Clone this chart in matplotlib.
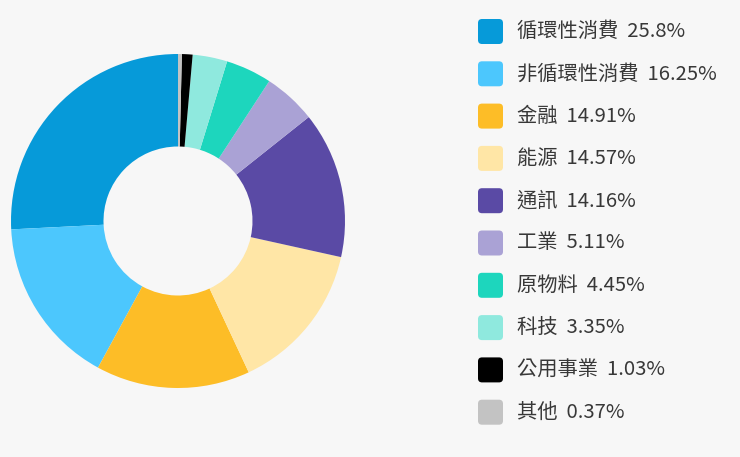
import matplotlib
matplotlib.use("Agg")
from matplotlib import pyplot as plt
from matplotlib.patches import FancyBboxPatch

plt.rcParams['font.family'] = ['Noto Sans CJK TC', 'DejaVu Sans']

sectors = ["循環性消費", "非循環性消費", "金融", "能源", "通訊",
           "工業", "原物料", "科技", "公用事業", "其他"]
shares = [25.8, 16.25, 14.91, 14.57, 14.16, 5.11, 4.45, 3.35, 1.03, 0.37]
share_labels = ["25.8%", "16.25%", "14.91%", "14.57%", "14.16%",
                "5.11%", "4.45%", "3.35%", "1.03%", "0.37%"]
colors = ["#069ad9", "#4cc7fd", "#fdbd27", "#ffe6a6", "#5a4aa5",
          "#aaa2d5", "#1dd6bd", "#8fe9de", "#000000", "#c3c3c3"]

bg = "#f7f7f7"
W, H = 740, 457
fig = plt.figure(figsize=(W / 100, H / 100), dpi=100, facecolor=bg)

# donut: centre (178, 221) px, outer radius 167 px, hole radius ~74 px
cx, cy, r = 178, 221, 167
ax = fig.add_axes([(cx - r) / W, (H - cy - r) / H, 2 * r / W, 2 * r / H])
ax.set_facecolor(bg)
ax.pie(shares, colors=colors, startangle=90, counterclock=True, radius=1,
       wedgeprops=dict(width=1 - 74.5 / 167, linewidth=0))
ax.set_xlim(-1, 1)
ax.set_ylim(-1, 1)
ax.set_aspect("equal")
ax.axis("off")

# legend drawn in pixel coordinates
lg = fig.add_axes([0, 0, 1, 1])
lg.set_xlim(0, W)
lg.set_ylim(H, 0)
lg.axis("off")
lg.patch.set_alpha(0)
y0, step, size = 31.5, 42.3, 25
for i, (name, lab, col) in enumerate(zip(sectors, share_labels, colors)):
    y = y0 + i * step
    lg.add_patch(FancyBboxPatch((478, y - size / 2), size, size,
                                boxstyle="round,pad=0,rounding_size=4",
                                facecolor=col, edgecolor="none"))
    lg.text(517, y, name + "  " + lab, fontsize=14.6, color="#383838",
            va="center", ha="left")

fig.savefig("out.png", dpi=100, facecolor=bg)
